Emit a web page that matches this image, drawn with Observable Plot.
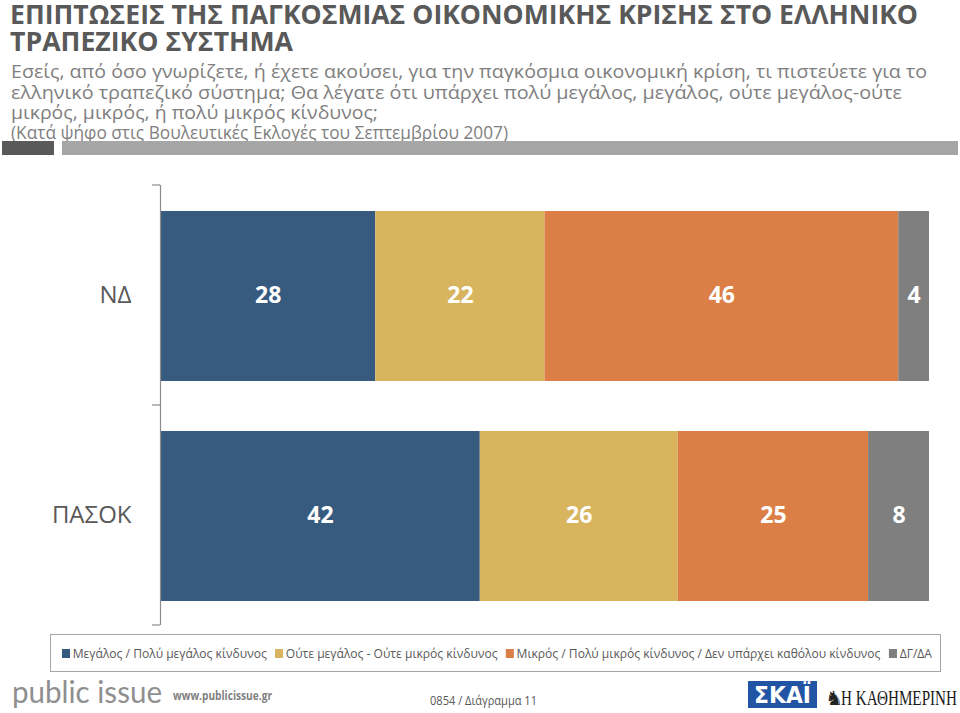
<!DOCTYPE html>
<html>
<head>
<meta charset="utf-8">
<script src="https://cdn.jsdelivr.net/npm/d3@7"></script>
<script src="https://cdn.jsdelivr.net/npm/@observablehq/plot@0.6"></script>
<style>
  html, body { margin: 0; padding: 0; background: #ffffff; }
  #page { position: relative; width: 960px; height: 713px; overflow: hidden; background: #fff; }
  #chart { position: absolute; left: 0; top: 160px; }
  #overlay { position: absolute; left: 0; top: 0; }
</style>
</head>
<body>
<div id="page">
  <div id="chart"></div>
  <svg id="overlay" width="960" height="713"></svg>
</div>
<script>
// ---------- data ----------
const parties = ["ΝΔ", "ΠΑΣΟΚ"];
const categories = [
  "Μεγάλος / Πολύ μεγάλος κίνδυνος",
  "Ούτε μεγάλος - Ούτε μικρός κίνδυνος",
  "Μικρός / Πολύ μικρός κίνδυνος / Δεν υπάρχει καθόλου κίνδυνος",
  "ΔΓ/ΔΑ"
];
const valuesND = [28, 22, 46, 4];
const valuesPASOK = [42, 26, 25, 8];
const colors = ["#375b7f", "#d8b45f", "#dc7f47", "#7f7f7f"];

const titleLines = [
  "ΕΠΙΠΤΩΣΕΙΣ ΤΗΣ ΠΑΓΚΟΣΜΙΑΣ ΟΙΚΟΝΟΜΙΚΗΣ ΚΡΙΣΗΣ ΣΤΟ ΕΛΛΗΝΙΚΟ",
  "ΤΡΑΠΕΖΙΚΟ ΣΥΣΤΗΜΑ"
];
const subtitleLines = [
  "Εσείς, από όσο γνωρίζετε, ή έχετε ακούσει, για την παγκόσμια οικονομική κρίση, τι πιστεύετε για το",
  "ελληνικό τραπεζικό σύστημα; Θα λέγατε ότι υπάρχει πολύ μεγάλος, μεγάλος, ούτε μεγάλος-ούτε",
  "μικρός, μικρός, ή πολύ μικρός κίνδυνος;",
  "(Κατά ψήφο στις Βουλευτικές Εκλογές του Σεπτεμβρίου 2007)"
];
const footerLogo = "public issue";
const footerUrl = "www.publicissue.gr";
const footerCode = "0854 / Διάγραμμα 11";
const skaiText = "ΣΚΑΪ";
const kathimeriniText = "Η ΚΑΘΗΜΕΡΙΝΗ";

const data = [];
parties.forEach((p, i) => {
  const vals = i === 0 ? valuesND : valuesPASOK;
  categories.forEach((c, j) => data.push({party: p, category: c, value: vals[j]}));
});

// ---------- chart ----------
const plot = Plot.plot({
  width: 960,
  height: 470,
  marginLeft: 160,
  marginRight: 31,
  marginTop: 25,
  marginBottom: 5,
  x: {axis: null, domain: [0, 1]},
  y: {domain: parties, padding: 0, tickSize: 0, tickPadding: 29, label: null},
  color: {domain: categories, range: colors},
  style: {fontFamily: "'Open Sans', sans-serif", fontSize: "24px", color: "#595959", background: "transparent"},
  marks: [
    Plot.barX(data, {x: "value", y: "party", fill: "category", z: "category", order: categories,
      offset: "normalize", insetTop: 26, insetBottom: 24}),
    Plot.textX(data, Plot.stackX({x: "value", y: "party", z: "category", order: categories,
      offset: "normalize", text: d => String(d.value), fill: "white", fontSize: 23, fontWeight: "bold"})),
    Plot.ruleX([0], {stroke: "#8c8c8c", strokeWidth: 1.2})
  ]
});
document.getElementById("chart").appendChild(plot);

// band boundary ticks on the y axis
{
  const ys = plot.scale("y");
  const [r0, r1] = ys.range;
  const n = ys.domain.length;
  const step = (r1 - r0) / n;
  const bounds = d3.range(n + 1).map(i => r0 + i * step);
  d3.select(plot).append("g")
    .selectAll("line").data(bounds).join("line")
    .attr("x1", 152).attr("x2", 160)
    .attr("y1", d => d).attr("y2", d => d)
    .attr("stroke", "#8c8c8c").attr("stroke-width", 1.2);
}

// ---------- header / footer ----------
const svg = d3.select("#overlay");
function txt(s, o) {
  const t = svg.append("text")
    .attr("x", o.x).attr("y", o.y)
    .attr("font-family", o.family || "'Open Sans', sans-serif")
    .attr("font-size", o.size)
    .attr("font-weight", o.weight || "normal")
    .attr("fill", o.fill || "#595959")
    .text(s);
  if (o.width) t.attr("textLength", o.width).attr("lengthAdjust", "spacingAndGlyphs");
  if (o.anchor) t.attr("text-anchor", o.anchor);
  return t;
}

// title
txt(titleLines[0], {x: 10, y: 24, size: 27, weight: "bold", fill: "#595959", width: 908});
txt(titleLines[1], {x: 10, y: 51, size: 27, weight: "bold", fill: "#595959", width: 283});
// subtitle
const subBase = [78, 98.5, 119, 139];
const subEnd = [927, 902, 378, 508];
subtitleLines.forEach((s, i) => {
  txt(s, {x: 11, y: subBase[i], size: 18, fill: "#7f7f7f", width: subEnd[i] - 11});
});
// separator bars
svg.append("rect").attr("x", 2).attr("y", 141).attr("width", 52).attr("height", 14).attr("fill", "#595959");
svg.append("rect").attr("x", 62).attr("y", 141).attr("width", 896).attr("height", 14).attr("fill", "#a6a6a6");

// legend
svg.append("rect").attr("x", 50.5).attr("y", 634.5).attr("width", 890).attr("height", 37)
  .attr("fill", "none").attr("stroke", "#a6a6a6");
{
  const g = svg.append("g");
  let x = 0;
  categories.forEach((c, i) => {
    g.append("rect").attr("x", x).attr("y", 649).attr("width", 9).attr("height", 9).attr("fill", colors[i]);
    x += 12;
    const t = g.append("text").attr("x", x).attr("y", 658)
      .attr("font-family", "'Open Sans', sans-serif").attr("font-size", 13.5)
      .attr("fill", "#595959").text(c);
    x += t.node().getComputedTextLength() + 9;
  });
  const total = x - 9;
  const k = (932 - 62) / total;
  g.attr("transform", `translate(62,0) scale(${k},1)`);
}

// footer
txt(footerLogo, {x: 12, y: 703, size: 30, family: "Lato, sans-serif", fill: "#8f8f8f", width: 150});
txt(footerUrl, {x: 173, y: 700, size: 12, weight: "bold", fill: "#7f7f7f", width: 99});
txt(footerCode, {x: 430, y: 705, size: 12, fill: "#595959", width: 107});
svg.append("rect").attr("x", 748).attr("y", 681).attr("width", 69).attr("height", 27).attr("fill", "#2155a3");
txt(skaiText, {x: 754, y: 703, size: 23, weight: "bold", family: "'DejaVu Sans', sans-serif", fill: "#ffffff", width: 57});
txt("♞", {x: 825, y: 705, size: 20, family: "'DejaVu Sans', sans-serif", fill: "#222222"});
txt(kathimeriniText, {x: 841, y: 705, size: 22, family: "'Liberation Serif', serif", fill: "#1a1a1a", width: 116});
</script>
</body>
</html>
